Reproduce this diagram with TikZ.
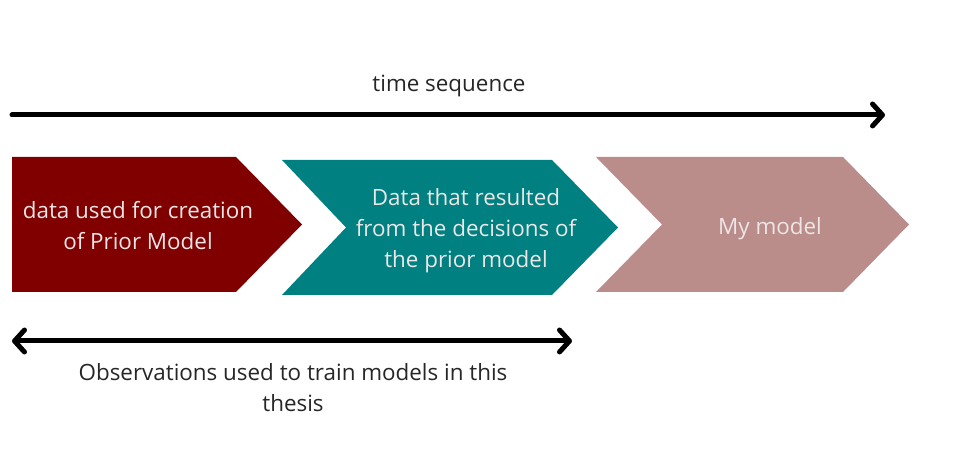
\documentclass[tikz,border=0pt]{standalone}
\usepackage{fontspec}
\setmainfont{Open Sans}
\usetikzlibrary{arrows.meta}
\definecolor{priorred}{HTML}{800000}
\definecolor{resteal}{HTML}{008080}
\definecolor{mymodel}{HTML}{BA8C8A}
\definecolor{intxt}{HTML}{ECE6E6}
\begin{document}
\begin{tikzpicture}[x=0.5pt,y=-0.5pt,font=\fontsize{11.2pt}{15.5pt}\selectfont, line join=round, line cap=round, >={Straight Barb[length=5pt,width=11pt,round]},
		intext/.style={text=intxt,align=center,inner sep=0pt},
		outtext/.style={text=black!85,align=center,inner sep=0pt},
		bigarrow/.style={line width=2.5pt}]
			\useasboundingbox (0,0) rectangle (957,453);
			\foreach \xl/\nt/\xr/\yt/\yb/\cl in {12/0/236/157/292/priorred,282/64/552/160/295/resteal,596/66/843/157/292/mymodel}
				\fill[\cl](\xl,\yt)--(\xr,\yt)--(\xr+66,{(\yt+\yb)/2})--(\xr,\yb)--(\xl,\yb)--(\xl+\nt,{(\yt+\yb)/2})--cycle;
			\node[intext] (prior) at (138,226) {data used for creation\\of Prior Model};
			\node[intext] (result) at (466,231) {Data that resulted\\from the decisions of\\the prior model};
			\node[intext] (mine) at (770,229) {My model};
			% time axis
			\coordinate (ts) at (12,115);
			\coordinate (te) at (885,115);
			\draw[bigarrow,->] (ts)--(te);
			\node[outtext] (timelbl) at (449,86) {time sequence};
			% training span
			\coordinate (os) at (12,341);
			\coordinate (oe) at (572,341);
			\draw[bigarrow,<->] (os)--(oe);
			\node[outtext] (obslbl) at (293,388) {Observations used to train models in this\\thesis};
		\end{tikzpicture}
\end{document}
